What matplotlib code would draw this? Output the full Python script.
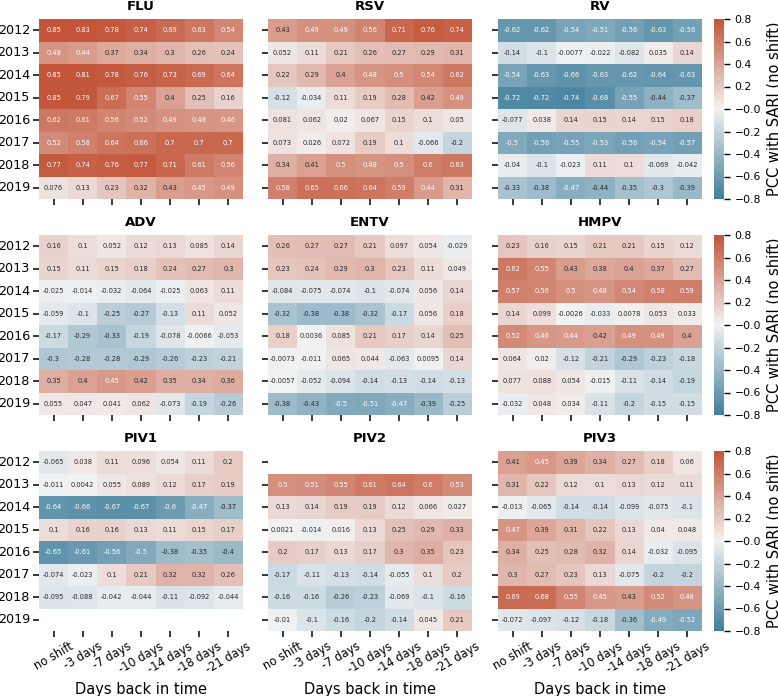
import numpy as np
import matplotlib
matplotlib.use("Agg")
import matplotlib.pyplot as plt
import seaborn as sns

years = ["2012", "2013", "2014", "2015", "2016", "2017", "2018", "2019"]
shifts = ["no shift", "-3 days", "-7 days", "-10 days", "-14 days", "-18 days", "-21 days"]
nan = np.nan

FLU = [[0.85, 0.83, 0.78, 0.74, 0.69, 0.63, 0.54],
       [0.48, 0.44, 0.37, 0.34, 0.3, 0.26, 0.24],
       [0.85, 0.81, 0.78, 0.76, 0.73, 0.69, 0.64],
       [0.85, 0.79, 0.67, 0.55, 0.4, 0.25, 0.16],
       [0.62, 0.61, 0.56, 0.52, 0.49, 0.48, 0.46],
       [0.52, 0.58, 0.64, 0.66, 0.7, 0.7, 0.7],
       [0.77, 0.74, 0.76, 0.77, 0.71, 0.61, 0.56],
       [0.076, 0.13, 0.23, 0.32, 0.43, 0.45, 0.49]]
RSV = [[0.43, 0.49, 0.49, 0.56, 0.71, 0.76, 0.74],
       [0.052, 0.11, 0.21, 0.26, 0.27, 0.29, 0.31],
       [0.22, 0.29, 0.4, 0.48, 0.5, 0.54, 0.62],
       [-0.12, -0.034, 0.11, 0.19, 0.28, 0.42, 0.49],
       [0.081, 0.062, 0.02, 0.067, 0.15, 0.1, 0.05],
       [0.073, 0.026, 0.072, 0.19, 0.1, -0.066, -0.2],
       [0.34, 0.41, 0.5, 0.48, 0.5, 0.6, 0.63],
       [0.58, 0.65, 0.66, 0.64, 0.59, 0.44, 0.31]]
RV = [[-0.62, -0.62, -0.54, -0.51, -0.56, -0.63, -0.56],
      [-0.14, -0.1, -0.0077, -0.022, -0.082, 0.035, 0.14],
      [-0.54, -0.63, -0.66, -0.63, -0.62, -0.64, -0.63],
      [-0.72, -0.72, -0.74, -0.68, -0.55, -0.44, -0.37],
      [-0.077, 0.038, 0.14, 0.15, 0.14, 0.15, 0.18],
      [-0.5, -0.56, -0.55, -0.53, -0.56, -0.54, -0.57],
      [-0.04, -0.1, -0.023, 0.11, 0.1, -0.069, -0.042],
      [-0.33, -0.38, -0.47, -0.44, -0.35, -0.3, -0.39]]
ADV = [[0.16, 0.1, 0.052, 0.12, 0.13, 0.085, 0.14],
       [0.15, 0.11, 0.15, 0.18, 0.24, 0.27, 0.3],
       [-0.025, -0.014, -0.032, -0.064, -0.025, 0.063, 0.11],
       [-0.059, -0.1, -0.25, -0.27, -0.13, 0.11, 0.052],
       [-0.17, -0.29, -0.33, -0.19, -0.078, -0.0066, -0.053],
       [-0.3, -0.28, -0.28, -0.29, -0.26, -0.23, -0.21],
       [0.35, 0.4, 0.45, 0.42, 0.35, 0.34, 0.36],
       [0.055, 0.047, 0.041, 0.062, -0.073, -0.19, -0.26]]
ENTV = [[0.26, 0.27, 0.27, 0.21, 0.097, 0.054, -0.029],
        [0.23, 0.24, 0.29, 0.3, 0.23, 0.11, 0.049],
        [-0.084, -0.075, -0.074, -0.1, -0.074, 0.056, 0.14],
        [-0.32, -0.38, -0.38, -0.32, -0.17, 0.056, 0.18],
        [0.18, 0.0036, 0.085, 0.21, 0.17, 0.14, 0.25],
        [-0.0073, -0.011, 0.065, 0.044, -0.063, 0.0095, 0.14],
        [-0.0057, -0.052, -0.094, -0.14, -0.13, -0.14, -0.13],
        [-0.38, -0.43, -0.5, -0.51, -0.47, -0.39, -0.25]]
HMPV = [[0.23, 0.16, 0.15, 0.21, 0.21, 0.15, 0.12],
        [0.62, 0.55, 0.43, 0.38, 0.4, 0.37, 0.27],
        [0.57, 0.56, 0.5, 0.48, 0.54, 0.58, 0.59],
        [0.14, 0.099, -0.0026, -0.033, 0.0078, 0.053, 0.033],
        [0.52, 0.46, 0.44, 0.42, 0.49, 0.49, 0.4],
        [0.064, 0.02, -0.12, -0.21, -0.29, -0.23, -0.18],
        [0.077, 0.088, 0.054, -0.015, -0.11, -0.14, -0.19],
        [-0.032, 0.048, 0.034, -0.11, -0.2, -0.15, -0.15]]
PIV1 = [[-0.065, 0.038, 0.11, 0.096, 0.054, 0.11, 0.2],
        [-0.011, 0.0042, 0.055, 0.089, 0.12, 0.17, 0.19],
        [-0.64, -0.66, -0.67, -0.67, -0.6, -0.47, -0.37],
        [0.1, 0.16, 0.16, 0.13, 0.11, 0.15, 0.17],
        [-0.65, -0.61, -0.56, -0.5, -0.38, -0.35, -0.4],
        [-0.074, -0.023, 0.1, 0.21, 0.32, 0.32, 0.26],
        [-0.095, -0.088, -0.042, -0.044, -0.11, -0.092, -0.044],
        [nan, nan, nan, nan, nan, nan, nan]]
PIV2 = [[nan, nan, nan, nan, nan, nan, nan],
        [0.5, 0.51, 0.55, 0.61, 0.64, 0.6, 0.53],
        [0.13, 0.14, 0.19, 0.19, 0.12, 0.066, 0.027],
        [0.0021, -0.014, 0.016, 0.13, 0.25, 0.29, 0.33],
        [0.2, 0.17, 0.13, 0.17, 0.3, 0.35, 0.23],
        [-0.17, -0.11, -0.13, -0.14, -0.055, 0.1, 0.2],
        [-0.16, -0.16, -0.26, -0.23, -0.069, -0.1, -0.16],
        [-0.01, -0.1, -0.16, -0.2, -0.14, 0.045, 0.21]]
PIV3 = [[0.41, 0.45, 0.39, 0.34, 0.27, 0.18, 0.06],
        [0.31, 0.22, 0.12, 0.1, 0.13, 0.12, 0.11],
        [-0.013, -0.065, -0.14, -0.14, -0.099, -0.075, -0.1],
        [0.47, 0.39, 0.31, 0.22, 0.13, 0.04, 0.048],
        [0.34, 0.25, 0.28, 0.32, 0.14, -0.032, -0.095],
        [0.3, 0.27, 0.23, 0.13, -0.075, -0.2, -0.2],
        [0.69, 0.68, 0.55, 0.45, 0.43, 0.52, 0.48],
        [-0.072, -0.097, -0.12, -0.18, -0.36, -0.49, -0.52]]

panels = [("FLU", FLU), ("RSV", RSV), ("RV", RV),
          ("ADV", ADV), ("ENTV", ENTV), ("HMPV", HMPV),
          ("PIV1", PIV1), ("PIV2", PIV2), ("PIV3", PIV3)]

W, H = 778, 696
fig = plt.figure(figsize=(W / 100, H / 100), dpi=100)
cmap = sns.diverging_palette(230, 20, as_cmap=True)

col_x = [39, 268, 498]
row_top = [19, 235, 451]
aw, ah = 204, 180
cb_x, cb_w = 714, 10
cticks = np.round(np.arange(-0.8, 0.81, 0.2), 1)

def rect(x, top, w, h):
    return [x / W, 1 - (top + h) / H, w / W, h / H]

for i, (name, data) in enumerate(panels):
    r, c = divmod(i, 3)
    ax = fig.add_axes(rect(col_x[c], row_top[r], aw, ah))
    arr = np.array(data, dtype=float)
    kw = dict(ax=ax, cmap=cmap, vmin=-0.8, vmax=0.8, annot=True, fmt=".2g",
              annot_kws={"fontsize": 4.8}, xticklabels=shifts, yticklabels=years)
    if c == 2:
        cax = fig.add_axes(rect(cb_x, row_top[r], cb_w, ah))
        sns.heatmap(arr, cbar=True, cbar_ax=cax,
                    cbar_kws={"label": "PCC with SARI (no shift)", "ticks": cticks}, **kw)
        cax.tick_params(labelsize=7.8, length=4, width=1)
        cax.set_yticklabels([f"{v:.1f}".replace("-", "\u2212") for v in cticks])
        cax.yaxis.label.set_size(10.5)
    else:
        sns.heatmap(arr, cbar=False, **kw)
    ax.set_title(name, fontsize=9.5, fontweight="bold", pad=6.5)
    ax.tick_params(axis="both", length=4, width=1.1, pad=2.5)
    if c == 0:
        ax.set_yticklabels(years, rotation=0, fontsize=9.2)
    else:
        ax.set_yticklabels([])
    if r == 2:
        ax.set_xticklabels(shifts, rotation=30, ha="center", fontsize=8.3)
        ax.set_xlabel("Days back in time", fontsize=10.5, labelpad=4)
    else:
        ax.set_xticklabels([])

fig.savefig("out.png", dpi=100)
